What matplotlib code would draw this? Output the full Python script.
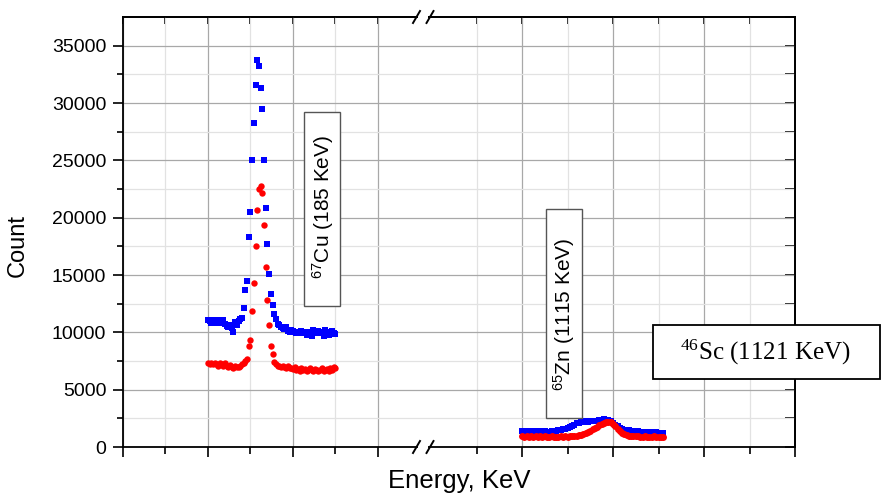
import numpy as np
import matplotlib.pyplot as plt
from matplotlib.lines import Line2D
from matplotlib.patches import Rectangle

plt.rcParams['font.family'] = ['Liberation Sans', 'DejaVu Sans']
plt.rcParams['mathtext.default'] = 'regular'

# 67Cu region, left part of the broken energy axis
cu_energy = np.linspace(170.0, 200.0, 76)
cu_blue = [11050, 10950, 10800, 11050, 10900, 10850, 11100, 10950, 10800, 11050,
           10700, 10550, 10500, 10650, 10400, 10000, 10900, 10600, 11000, 11200,
           11250,
           12100, 13650, 14450, 18300, 20500, 25000, 28250, 31550, 33750, 33200,
           31300, 29450, 25050, 20800, 17700, 15100, 13350, 12350, 11600, 11150,
           10700, 10600, 10500, 10400, 10300, 10500, 10100, 10000, 10200, 10100,
           10000, 9900, 10000, 9950, 10100, 9900, 10000, 9800, 10000, 9900,
           9700, 10200, 10000, 9900, 10100, 9900, 10000, 9700, 10200, 10000,
           9800, 9900, 10100, 9900, 9850]
cu_red = [7300, 7250, 7300, 7200, 7350, 7250, 7100, 7300, 7200, 7050,
          7300, 7100, 6950, 7150, 7000, 6850, 7050, 6950, 7000, 7100,
          7200, 7350, 7500,
          7650, 8800, 9350, 11850, 14300, 17550, 20700, 22500, 22800, 22150,
          19400, 15700, 12850, 10600, 8800, 8100, 7450, 7250,
          7100, 7050, 7000, 7100, 6950, 6900, 7050, 6850, 6900, 6800,
          6950, 6700, 6800, 6650, 6900, 6700, 6800, 6650, 6750, 6850,
          6700, 6600, 6800, 6750, 6650, 6700, 6850, 6600, 6750, 6800,
          6650, 6900, 6700, 6950, 6850]

# 65Zn / 46Sc region, right part of the broken axis
zn_energy = np.linspace(1100.0, 1131.0, 63)
zn_blue = [1420, 1300, 1390, 1280, 1360, 1310, 1400, 1290, 1370, 1320, 1410, 1300,
           1350, 1390, 1330, 1420, 1440,
           1460, 1530, 1580, 1680, 1760, 1870, 1940, 2050, 2090, 2170, 2160, 2230,
           2200, 2290, 2230, 2310, 2280, 2340, 2310, 2400, 2370, 2330,
           2250, 2100, 1950, 1800, 1680, 1590, 1510, 1470,
           1450, 1380, 1410, 1340, 1370, 1310, 1350, 1280, 1320, 1270, 1300, 1230,
           1280, 1210, 1260, 1190]
zn_red = [960, 890, 940, 870, 930, 890, 950, 880, 920, 860, 930, 890, 870, 940,
          880, 910, 860, 920, 870, 930, 890,
          930, 940, 970, 990, 1030, 1080, 1150, 1230, 1320, 1420, 1530, 1650,
          1780, 1900, 2020, 2120, 2180, 2200,
          2150, 2000, 1800, 1600, 1400, 1250, 1130, 1050, 1000,
          960, 940, 920, 950, 900, 890, 930, 880, 910, 870, 920, 860, 890, 910, 870]

W, H = 885, 494


def fx(px):
    return px / W


def fy(py):
    return 1 - py / H


fig = plt.figure(figsize=(W / 100, H / 100), dpi=100)
ax_l = fig.add_axes([fx(123), fy(447), fx(423) - fx(123), fy(17) - fy(447)])
ax_r = fig.add_axes([fx(423), fy(447), fx(795) - fx(423), fy(17) - fy(447)])

for ax in (ax_l, ax_r):
    ax.set_ylim(0, 37500)
    ax.set_yticks(np.arange(0, 37501, 5000))
    ax.set_yticks(np.arange(2500, 37500, 5000), minor=True)
    ax.grid(which='major', color='#a8a8a8', lw=0.9)
    ax.grid(which='minor', color='#e2e2e2', lw=0.9)
    ax.set_axisbelow(True)
    for s in ax.spines.values():
        s.set_linewidth(1.3)
    ax.tick_params(axis='x', which='both', direction='out', top=False, width=1.2,
                   labelbottom=False)
    ax.tick_params(axis='x', which='major', length=7)
    ax.tick_params(axis='x', which='minor', length=5)

# left panel
ax_l.set_xlim(150, 220.6)
ax_l.set_xticks([150, 170, 190, 210])
ax_l.set_xticks([160, 180, 200], minor=True)
ax_l.spines['right'].set_visible(False)
ax_l.tick_params(axis='y', which='both', direction='out', right=False, width=1.2,
                 labelsize=14, pad=5)
ax_l.tick_params(axis='y', which='major', length=7)
ax_l.tick_params(axis='y', which='minor', length=4)
top_l = ax_l.secondary_xaxis('top')
top_l.set_xticks([150, 160, 170, 180, 190, 200, 210])
top_l.tick_params(direction='in', length=5, width=1.2, labeltop=False)
top_l.spines['top'].set_linewidth(1.3)

ax_l.plot(cu_energy, cu_blue, 's', color='#0000ff', ms=4.2, mew=0)
ax_l.plot(cu_energy, cu_red, 'o', color='#ff0000', ms=4.6, mew=0)

# right panel
ax_r.set_xlim(1078.24, 1160)
ax_r.set_xticks([1100, 1120, 1140, 1160])
ax_r.set_xticks([1090, 1110, 1130, 1150], minor=True)
ax_r.spines['left'].set_visible(False)
ax_r.tick_params(axis='y', which='both', left=False, right=False, labelleft=False)
top_r = ax_r.secondary_xaxis('top')
top_r.set_xticks([1090, 1100, 1110, 1120, 1130, 1140, 1150])
top_r.tick_params(direction='in', length=5, width=1.2, labeltop=False)
top_r.spines['top'].set_linewidth(1.3)
side_r = ax_r.secondary_yaxis('right')
side_r.set_yticks(np.arange(0, 37501, 2500))
side_r.tick_params(direction='in', length=7, width=1.2, labelright=False)
side_r.spines['right'].set_linewidth(1.3)

ax_r.plot(zn_energy, zn_blue, 's', color='#0000ff', ms=4.6, mew=0)
ax_r.plot(zn_energy, zn_red, 'o', color='#ff0000', ms=5.0, mew=0)

# axis break marks: gap in the frame between two slashes
for yc in (17, 447):
    fig.add_artist(Rectangle((fx(418), fy(yc + 2)), fx(428) - fx(418), fy(yc - 2) - fy(yc + 2),
                             transform=fig.transFigure, facecolor='white',
                             edgecolor='none', zorder=4))
    for xc in (416.5, 430.0):
        fig.add_artist(Line2D([fx(xc - 3.5), fx(xc + 3.5)], [fy(yc + 6), fy(yc - 6)],
                              transform=fig.transFigure, color='black', lw=1.4,
                              zorder=5))

# labels
fig.text(fx(18), fy(245), 'Count', rotation=90, fontsize=17, ha='center', va='center')
fig.text(fx(459), fy(488), 'Energy, KeV', fontsize=18.5, ha='center', va='baseline')

# peak annotation boxes
boxes = [
    ((304.3, 111.7, 340, 306), '#555555', 1.0),
    ((545.7, 209.3, 581.7, 418.3), '#555555', 1.0),
    ((653.3, 325, 880, 379.3), 'black', 1.3),
]
for (x0, y0, x1, y1), ec, lw in boxes:
    fig.add_artist(Rectangle((fx(x0), fy(y1)), fx(x1) - fx(x0), fy(y0) - fy(y1),
                             transform=fig.transFigure, facecolor='white',
                             edgecolor=ec, lw=lw, zorder=5))

fig.text(fx(323), fy(207), r'$\mathregular{^{67}}$Cu (185 KeV)', rotation=90,
         fontsize=15, ha='center', va='center', zorder=6)
fig.text(fx(564), fy(314), r'$\mathregular{^{65}}$Zn (1115 KeV)', rotation=90,
         fontsize=15, ha='center', va='center', zorder=6)
fig.text(fx(765), fy(352), r'$\mathregular{^{46}}$Sc (1121 KeV)',
         family=['Liberation Serif', 'DejaVu Serif'], fontsize=18,
         ha='center', va='center', zorder=6)

fig.savefig('out.png', dpi=100)
